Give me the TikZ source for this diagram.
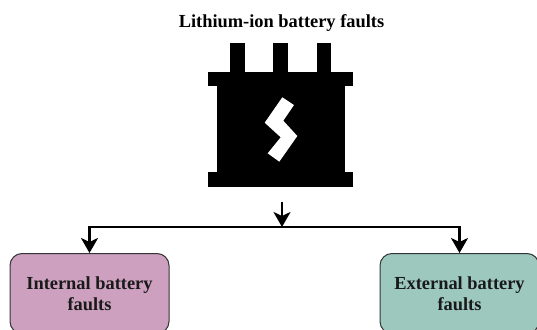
\documentclass[tikz,border=0pt]{standalone}
\usepackage{fontspec}
\setmainfont{Liberation Serif}
\usetikzlibrary{arrows.meta}
\tikzset{
  x=1pt,y=-1pt,
  faultbox/.style={draw=black!80,line width=1pt,rounded corners=12pt,minimum width=159pt,minimum height=80pt,inner sep=0pt,align=center,font=\fontsize{18.4}{21}\selectfont\bfseries,text=black!90},
  conn/.style={line width=2.4pt,draw=black},
  arr/.style={conn,-{Stealth[length=15pt,width=17pt,inset=4pt]}},
  titletext/.style={font=\fontsize{18.4}{21}\selectfont\bfseries,inner sep=0pt},
  battery/.style={fill=black,draw=none}
}
\definecolor{leftfill}{HTML}{CCA0BE}
\definecolor{rightfill}{HTML}{9CC8BE}
\begin{document}
\begin{tikzpicture}
\useasboundingbox (0,0) rectangle (537,329);
\node[titletext] (title) at (281.5,23.5) {Lithium-ion battery faults};
% battery
\fill[battery] (230,43) rectangle (245,73);
\fill[battery] (273,43) rectangle (288,73);
\fill[battery] (317,43) rectangle (331,73);
\fill[battery] (208,72) rectangle (353,86);
\fill[battery] (217,85) rectangle (345,173);
\fill[battery] (208,172) rectangle (353,187);
\fill[white] (282.3,97.3) -- (294,105) -- (283.3,120.7) -- (297.3,136) -- (279.3,161.7) -- (267.7,153.3) -- (280.7,137.3) -- (264.7,122.7) -- cycle;
% boxes
\begin{scope}
\clip (0,0) rectangle (537,329);
\node[faultbox,fill=leftfill] (left) at (89.5,293.5) {Internal battery\\faults};
\node[faultbox,fill=rightfill] (right) at (459.5,293.5) {External battery\\faults};
\end{scope}
% connectors
\coordinate (src) at (282,202);
\coordinate (bus) at (282,227);
\draw[arr] (src) -- (bus);
\draw[arr] (bus) -| (left.north);
\draw[arr] (bus) -| (right.north);
\end{tikzpicture}
\end{document}
